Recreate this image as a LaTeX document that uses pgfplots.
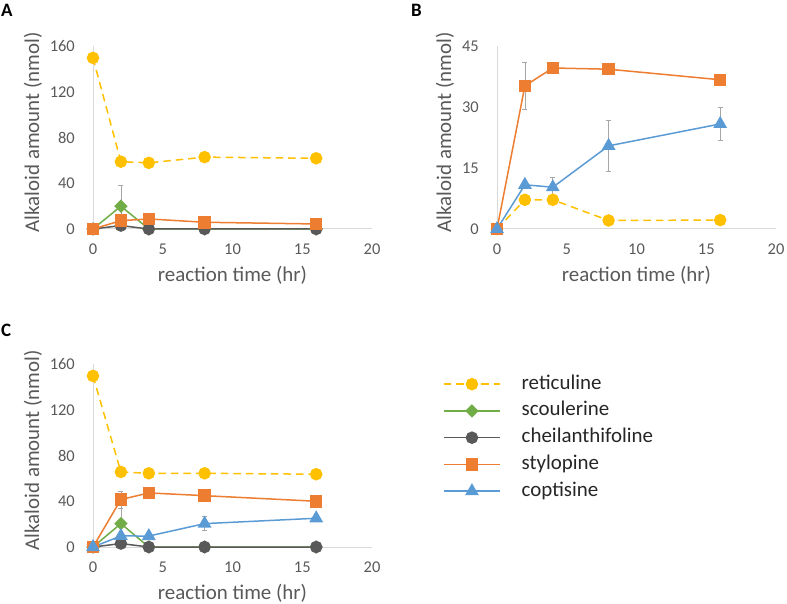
\documentclass[border=0pt]{standalone}
\usepackage{fontspec}
\setmainfont{Carlito}
\usepackage{pgfplots}
\pgfplotsset{compat=1.18}
\definecolor{ret}{HTML}{FFC000}
\definecolor{sco}{HTML}{70AD47}
\definecolor{che}{HTML}{595959}
\definecolor{sty}{HTML}{ED7D31}
\definecolor{cop}{HTML}{5B9BD5}
\definecolor{txt}{HTML}{595959}
\definecolor{axl}{HTML}{D9D9D9}
\definecolor{errc}{HTML}{A6A6A6}
\definecolor{legt}{HTML}{262626}

\pgfplotsset{
  panel/.style={
    scale only axis, width=279bp, height=182.5bp,
    xmin=0, xmax=20, ymin=0,
    xtick={0,5,...,20},
    axis lines*=left,
    axis line style={draw=axl, line width=1bp},
    major tick length=0pt,
    tick label style={font=\fontsize{16.5}{18}\selectfont, text=txt},
    /pgf/number format/assume math mode=true,
    xticklabel style={anchor=center, yshift=-20bp},
    yticklabel style={anchor=east, inner sep=0pt, xshift=-18bp},
    label style={font=\fontsize{21}{24}\selectfont, text=txt},
    xlabel={reaction time (hr)},
    ylabel={Alkaloid amount (nmol)},
    x label style={at={(axis description cs:0.5,0)}, anchor=center, yshift=-46bp},
    clip=false,
    error bars/error bar style={draw=errc, line width=0.8bp, solid},
    error bars/error mark options={draw=errc, rotate=90, mark size=2.5bp, line width=0.8bp, solid},
    legend image code/.code={\draw[mark repeat=2,mark phase=2,##1] plot coordinates {(0bp,0bp) (28bp,0bp) (56bp,0bp)};},
  },
  sret/.style={ret, line width=1.5bp, dash pattern=on 7.5bp off 5bp, mark=*, mark size=5.5bp, mark options={solid, fill=ret, draw=ret}},
  ssco/.style={sco, line width=1.5bp, mark=square*, mark size=4bp, mark options={solid, rotate=45, fill=sco, draw=sco}},
  sche/.style={che, line width=1.5bp, mark=*, mark size=5.5bp, mark options={solid, fill=che, draw=che}},
  ssty/.style={sty, line width=1.5bp, mark=square*, mark size=5.5bp, mark options={solid, fill=sty, draw=sty}},
  scop/.style={cop, line width=1.5bp, mark=triangle*, mark size=6.5bp, mark options={solid, fill=cop, draw=cop}},
}

\begin{document}
\begin{tikzpicture}
\path[use as bounding box] (0,0) rectangle (787bp,604bp);

% Panel A
\begin{axis}[panel, at={(93bp,375bp)}, anchor=south west, ymax=160, ytick={0,40,...,160},
  y label style={at={(axis description cs:0,0.53)}, anchor=center, yshift=60bp}]
\addplot[sret, error bars/.cd, y dir=both, y explicit] table[row sep=\\, x=t, y=v, y error=e] {
t v e\\ 0 150 0\\ 2 59 0\\ 4 58 0\\ 8 63 0\\ 16 62 3\\};
\addplot[ssco, error bars/.cd, y dir=both, y explicit] table[row sep=\\, x=t, y=v, y error=e] {
t v e\\ 0 0 0\\ 2 20 18.6\\ 4 0 0\\ 8 0 0\\ 16 0 0\\};
\addplot[sche] table[row sep=\\, x=t, y=v] {
t v\\ 0 0\\ 2 3\\ 4 0\\ 8 0\\ 16 0\\};
\addplot[ssty] table[row sep=\\, x=t, y=v] {
t v\\ 0 0\\ 2 7.3\\ 4 8.8\\ 8 5.9\\ 16 4.4\\};
\end{axis}

% Panel B
\begin{axis}[panel, at={(497bp,375bp)}, anchor=south west, ymax=45, ytick={0,15,30,45},
  y label style={at={(axis description cs:0,0.53)}, anchor=center, yshift=52bp}]
\addplot[sret] table[row sep=\\, x=t, y=v] {
t v\\ 0 0\\ 2 7.2\\ 4 7.2\\ 8 2.1\\ 16 2.2\\};
\addplot[ssty, error bars/.cd, y dir=both, y explicit] table[row sep=\\, x=t, y=v, y error=e] {
t v e\\ 0 0 0\\ 2 35.3 5.8\\ 4 39.7 0\\ 8 39.4 1.2\\ 16 36.8 1.0\\};
\addplot[scop, error bars/.cd, y dir=both, y explicit] table[row sep=\\, x=t, y=v, y error=e] {
t v e\\ 0 0 0\\ 2 10.9 0.5\\ 4 10.3 2.3\\ 8 20.5 6.4\\ 16 25.9 4.1\\};
\end{axis}

% Panel C
\begin{axis}[panel, at={(93bp,57bp)}, anchor=south west, ymax=160, ytick={0,40,...,160},
  y label style={at={(axis description cs:0,0.53)}, anchor=center, yshift=60bp},
  legend cell align=left,
  legend style={at={(1.2545,0.948)}, anchor=north west, draw=none, fill=none, inner sep=0pt,
    font=\fontsize{21}{24}\selectfont, text=legt, row sep=6.75bp, column sep=21bp,
    nodes={inner sep=0pt, text height=15bp, text depth=5bp, anchor=west}}]
\addplot[sret, error bars/.cd, y dir=both, y explicit] table[row sep=\\, x=t, y=v, y error=e] {
t v e\\ 0 150 0\\ 2 65.8 0\\ 4 64.6 0\\ 8 64.6 0\\ 16 63.8 3\\};
\addlegendentry{reticuline}
\addplot[ssco, error bars/.cd, y dir=both, y explicit] table[row sep=\\, x=t, y=v, y error=e] {
t v e\\ 0 0 0\\ 2 20.5 13.4\\ 4 0 0\\ 8 0 0\\ 16 0 0\\};
\addlegendentry{scoulerine}
\addplot[sche] table[row sep=\\, x=t, y=v] {
t v\\ 0 0\\ 2 3\\ 4 0\\ 8 0\\ 16 0\\};
\addlegendentry{cheilanthifoline}
\addplot[ssty, error bars/.cd, y dir=both, y explicit] table[row sep=\\, x=t, y=v, y error=e] {
t v e\\ 0 0 0\\ 2 41.6 7.5\\ 4 47.4 0\\ 8 45 0\\ 16 40.1 0\\};
\addlegendentry{stylopine}
\addplot[scop, error bars/.cd, y dir=both, y explicit] table[row sep=\\, x=t, y=v, y error=e] {
t v e\\ 0 0 0\\ 2 9.7 0\\ 4 9.6 0\\ 8 20.5 6\\ 16 25.2 0\\};
\addlegendentry{coptisine}
\end{axis}

\node[anchor=west, inner sep=0pt, font=\bfseries\fontsize{19}{20}\selectfont] at (1bp,594bp) {A};
\node[anchor=west, inner sep=0pt, font=\bfseries\fontsize{19}{20}\selectfont] at (411bp,594bp) {B};
\node[anchor=west, inner sep=0pt, font=\bfseries\fontsize{19}{20}\selectfont] at (1bp,274bp) {C};
\end{tikzpicture}
\end{document}
